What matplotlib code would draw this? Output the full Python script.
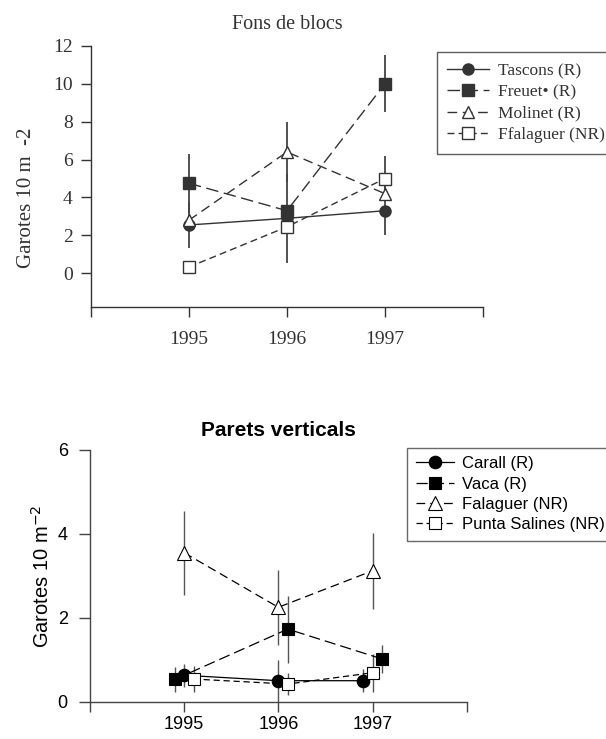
import matplotlib
matplotlib.use("Agg")
import numpy as np
import matplotlib.pyplot as plt

# --- Fons de blocs (top panel) ---
years = [1995, 1996, 1997]

blocs_names = ["Tascons (R)", "Freuet\u2022 (R)", "Molinet (R)", "Ffalaguer (NR)"]
tascons = [2.55, 2.9, 3.3]
tascons_err = [1.2, 2.35, 1.3]
freuet = [4.75, 3.3, 10.0]
freuet_err = [1.55, 0.0, 1.5]
molinet = [2.8, 6.4, 4.2]
molinet_err = [0.0, 1.6, 0.0]
ffalaguer = [0.33, 2.45, 5.0]
ffalaguer_err = [0.0, 0.0, 1.2]

# --- Parets verticals (bottom panel) ---
parets_names = ["Carall (R)", "Vaca (R)", "Falaguer (NR)", "Punta Salines (NR)"]
carall = [0.63, 0.5, 0.5]
carall_err = [0.28, 0.5, 0.28]
vaca = [0.53, 1.73, 1.02]
vaca_err = [0.3, 0.8, 0.33]
falaguer = [3.55, 2.25, 3.12]
falaguer_err = [1.0, 0.9, 0.9]
punta = [0.54, 0.42, 0.69]
punta_err = [0.3, 0.26, 0.45]

# small horizontal dodge so the points don't sit on top of each other
carall_dx = [0.0, 0.0, -0.1]
vaca_dx = [-0.1, 0.1, 0.1]
falaguer_dx = [0.0, 0.0, 0.0]
punta_dx = [0.1, 0.1, 0.0]

fig = plt.figure(figsize=(6.06, 7.39), dpi=100)

serif = ["Liberation Serif", "DejaVu Serif"]
sans = ["Liberation Sans", "DejaVu Sans"]
dark = "#333333"

# ================= top panel =================
ax1 = fig.add_axes([0.150, 0.584, 0.647, 0.354])
blocs = [
    (tascons, tascons_err, "o", dark, "-"),
    (freuet, freuet_err, "s", dark, (0, (9, 4))),
    (molinet, molinet_err, "^", "white", (0, (7, 4))),
    (ffalaguer, ffalaguer_err, "s", "white", (0, (5, 3))),
]
handles = []
for (vals, err, mk, face, ls), name in zip(blocs, blocs_names):
    ax1.errorbar(years, vals, yerr=err, fmt="none", ecolor="#444444",
                 elinewidth=1.3, capsize=0, zorder=1)
    h, = ax1.plot(years, vals, linestyle=ls, color=dark, linewidth=1.0,
                  marker=mk, markersize=8 if mk != "^" else 9,
                  markerfacecolor=face, markeredgecolor=dark,
                  markeredgewidth=1.0, label=name, zorder=3)
    handles.append(h)

ax1.set_xlim(1994, 1998)
ax1.set_ylim(-1.8, 12)
ax1.set_xticks([1994, 1995, 1996, 1997, 1998])
ax1.set_xticklabels(["", "1995", "1996", "1997", ""])
ax1.set_yticks(np.arange(0, 13, 2))
ax1.spines["top"].set_visible(False)
ax1.spines["right"].set_visible(False)
for s in ("left", "bottom"):
    ax1.spines[s].set_color(dark)
    ax1.spines[s].set_linewidth(1.0)
ax1.tick_params(direction="out", length=7, width=1.0, color=dark,
                labelsize=14, pad=6)
ax1.tick_params(axis="x", pad=10)
for lab in ax1.get_xticklabels() + ax1.get_yticklabels():
    lab.set_family(serif)
    lab.set_color(dark)
ax1.set_title("Fons de blocs", family=serif, fontsize=14.5, color=dark, pad=12)
ax1.set_ylabel("Garotes 10 m  -2", family=serif, fontsize=15, color=dark)
ax1.yaxis.set_label_coords(-0.14, 0.42)

leg1 = fig.legend(handles=handles, loc="upper left",
                  bbox_to_anchor=(0.721, 0.929), frameon=True, fancybox=False,
                  edgecolor=dark, prop={"family": serif, "size": 12.5},
                  handlelength=2.4, handletextpad=0.5, labelspacing=0.3,
                  borderpad=0.6, borderaxespad=0)
leg1.get_frame().set_linewidth(1.0)
for t in leg1.get_texts():
    t.set_color(dark)

# ================= bottom panel =================
ax2 = fig.add_axes([0.1485, 0.0505, 0.6216, 0.3406])
parets = [
    (carall, carall_err, carall_dx, "o", "black", "-"),
    (vaca, vaca_err, vaca_dx, "s", "black", (0, (9, 4))),
    (falaguer, falaguer_err, falaguer_dx, "^", "white", (0, (7, 4))),
    (punta, punta_err, punta_dx, "s", "white", (0, (5, 3))),
]
handles2 = []
for (vals, err, dx, mk, face, ls), name in zip(parets, parets_names):
    xs = np.array(years) + np.array(dx)
    ax2.errorbar(xs, vals, yerr=err, fmt="none", ecolor="#555555",
                 elinewidth=1.0, capsize=0, zorder=1)
    h, = ax2.plot(xs, vals, linestyle=ls, color="black", linewidth=0.9,
                  marker=mk, markersize=9 if mk != "^" else 10,
                  markerfacecolor=face, markeredgecolor="black",
                  markeredgewidth=0.8, label=name, zorder=3)
    handles2.append(h)

ax2.set_xlim(1994, 1998)
ax2.set_ylim(0, 6)
ax2.set_xticks([1994, 1995, 1996, 1997, 1998])
ax2.set_xticklabels(["", "1995", "1996", "1997", ""])
ax2.set_yticks([0, 2, 4, 6])
ax2.spines["top"].set_visible(False)
ax2.spines["right"].set_visible(False)
for s in ("left", "bottom"):
    ax2.spines[s].set_color("#444444")
    ax2.spines[s].set_linewidth(1.0)
ax2.tick_params(direction="out", length=8, width=1.0, color="#444444",
                labelsize=13, pad=8)
ax2.tick_params(axis="x", length=7, pad=3)
for lab in ax2.get_xticklabels() + ax2.get_yticklabels():
    lab.set_family(sans)
ax2.set_title("Parets verticals", family=sans, fontsize=15,
              fontweight="bold", pad=10)
ax2.set_ylabel("Garotes 10 m$^{-2}$", family=sans, fontsize=14.5)
ax2.yaxis.set_label_coords(-0.1, 0.5)

leg2 = fig.legend(handles=handles2, loc="upper left",
                  bbox_to_anchor=(0.672, 0.394), frameon=True, fancybox=False,
                  edgecolor="#444444", prop={"family": sans, "size": 12},
                  handlelength=2.3, handletextpad=0.5, labelspacing=0.32,
                  borderpad=0.5, borderaxespad=0)
leg2.get_frame().set_linewidth(1.0)

fig.savefig("out.png", dpi=100)
